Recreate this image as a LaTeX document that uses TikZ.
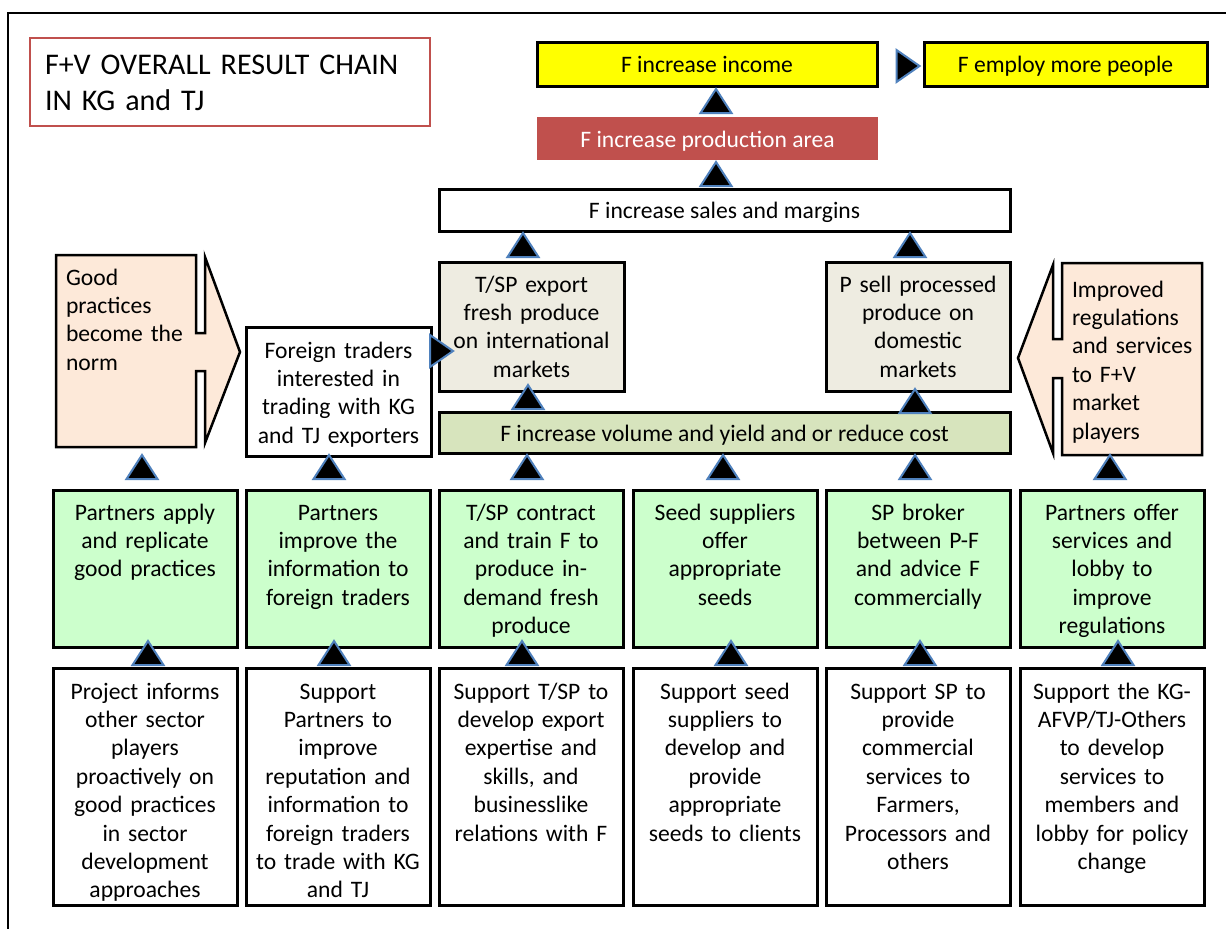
\documentclass[tikz,border=0pt]{standalone}
\usepackage{fontspec}
\setmainfont{Carlito}
\newdimen\unitpx \unitpx=0.75pt
\newcommand\chainfont{\fontsize{17.7}{21.3}\selectfont}
\newcommand\chaintitlefont{\fontsize{22.5}{27}\selectfont}
\definecolor{goalyellow}{HTML}{FFFF00}
\definecolor{areared}{HTML}{C0504D}
\definecolor{marketbeige}{HTML}{EEECE1}
\definecolor{yieldgreen}{HTML}{D7E4BD}
\definecolor{outputgreen}{HTML}{CCFFCC}
\definecolor{normpeach}{HTML}{FDE9D9}
\definecolor{tipblue}{HTML}{4F81BD}
\begin{document}
\begin{tikzpicture}[x=0.75pt,y=-0.75pt,
  every node/.style={inner sep=0pt, outer sep=0pt},
  box/.style={draw=black, line width=3\unitpx, anchor=north west, font=\chainfont,
    text height=14pt, text depth=1pt},
  lbl/.style={font=\chainfont, align=center, text width=190\unitpx, anchor=base},
  lbll/.style={font=\chainfont, align=left, text width=145\unitpx, anchor=base west},
  callout/.style={fill=normpeach, draw=black, line width=2.5\unitpx, line join=miter},
  tip/.style={fill=black, draw=tipblue, line width=2\unitpx, line join=miter},
  uptip/.pic={\draw[tip] (-15.5,12) -- (15.5,12) -- (0,-12) -- cycle;},
  righttip/.pic={\draw[tip] (-11.5,-16) -- (11.5,0) -- (-11.5,16) -- cycle;}
]
\useasboundingbox (0,0) rectangle (1226,928);
\fill[white] (0,0) rectangle (1226,928);
% outer frame
\draw[line width=2\unitpx] (1240,13) -- (8,13) -- (8,940);

% title
\node[draw=areared, line width=2.5\unitpx, fill=white, anchor=north west,
  minimum width=400\unitpx, minimum height=88\unitpx] (title) at (30,38) {};
\node[font=\chaintitlefont, align=left, text width=380\unitpx, anchor=base west] (titletext) at (45,74)
  {F+V OVERALL RESULT CHAIN\\IN KG and TJ};

% impact level
\node[box, fill=goalyellow, minimum width=340\unitpx, minimum height=44\unitpx] (income) at (537,42) {F increase income};
\node[box, fill=goalyellow, minimum width=283\unitpx, minimum height=44\unitpx] (employ) at (924,42) {F employ more people};
\node[box, draw=none, fill=areared, text=white, minimum width=341\unitpx, minimum height=43\unitpx] (area) at (537,117) {F increase production area};
\node[box, fill=white, minimum width=571\unitpx, minimum height=42\unitpx] (sales) at (439,189) {F increase sales and margins};

% outcome level
\node[box, fill=marketbeige, minimum width=185\unitpx, minimum height=129\unitpx] (export) at (439,262) {};
\node[lbl] (exporttext) at (531.5,292) {T/SP export\\fresh produce\\on international\\markets};
\node[box, fill=marketbeige, minimum width=184\unitpx, minimum height=129\unitpx] (domestic) at (826,262) {};
\node[lbl] (domestictext) at (918,292) {P sell processed\\produce on\\domestic\\markets};
\node[box, fill=yieldgreen, minimum width=571\unitpx, minimum height=41\unitpx] (yield) at (439,412) {F increase volume and yield and or reduce cost};
\node[box, fill=white, minimum width=185\unitpx, minimum height=129\unitpx] (foreign) at (246,327) {};
\node[lbl] (foreigntext) at (338.5,358) {Foreign traders\\interested in\\trading with KG\\and TJ exporters};

% side callouts
\path[callout] (56,255) -- (196,255) -- (196,333) -- (205,333) -- (205,257) -- (240,352)
  -- (205,443) -- (205,371) -- (196,371) -- (196,447) -- (56,447) -- cycle;
\node[lbll] (normtext) at (66,285) {Good\\practices\\become the\\norm};
\path[callout] (1202,263) -- (1062,263) -- (1062,339) -- (1053,339) -- (1053,265) -- (1018,358)
  -- (1053,453) -- (1053,378) -- (1062,378) -- (1062,455) -- (1202,455) -- cycle;
\node[lbll] (regstext) at (1072,297) {Improved\\regulations\\and services\\to F+V\\market\\players};

% output level
\foreach \n/\x/\txt in {
  1/53/{Partners apply\\and replicate\\good practices},
  2/246/{Partners\\improve the\\information to\\foreign traders},
  3/439/{T/SP contract\\and train F to\\produce in-\\demand fresh\\produce},
  4/633/{Seed suppliers\\offer\\appropriate\\seeds},
  5/826/{SP broker\\between P-F\\and advice F\\commercially},
  6/1020/{Partners offer\\services and\\lobby to\\improve\\regulations}}{
  \node[box, fill=outputgreen, minimum width=184\unitpx, minimum height=157\unitpx] (out\n) at (\x,490) {};
  \node[lbl] (out\n text) at (\x+92,520) {\txt};
}

% activity level
\foreach \n/\x/\txt in {
  1/53/{Project informs\\other sector\\players\\proactively on\\good practices\\in sector\\development\\approaches},
  2/246/{Support\\Partners to\\improve\\reputation and\\information to\\foreign traders\\to trade with KG\\and TJ},
  3/439/{Support T/SP to\\develop export\\expertise and\\skills, and\\businesslike\\relations with F},
  4/633/{Support seed\\suppliers to\\develop and\\provide\\appropriate\\seeds to clients},
  5/826/{Support SP to\\provide\\commercial\\services to\\Farmers,\\Processors and\\others},
  6/1020/{Support the KG-\\AFVP/TJ-Others\\to develop\\services to\\members and\\lobby for policy\\change}}{
  \node[box, fill=white, minimum width=184\unitpx, minimum height=237\unitpx] (act\n) at (\x,668) {};
  \node[lbl] (act\n text) at (\x+92,699) {\txt};
}

% arrowheads
\pic at (716,101) {uptip};
\pic at (716,174) {uptip};
\pic at (523,245) {uptip};
\pic at (910,245) {uptip};
\pic at (528,397) {uptip};
\pic at (915,401) {uptip};
\foreach \x in {142,329,527,723,915,1110} \pic at (\x,467) {uptip};
\foreach \x in {148,334,522,731,920,1118} \pic at (\x,653) {uptip};
\pic at (908,66) {righttip};
\pic at (441.5,351) {righttip};
\end{tikzpicture}
\end{document}
